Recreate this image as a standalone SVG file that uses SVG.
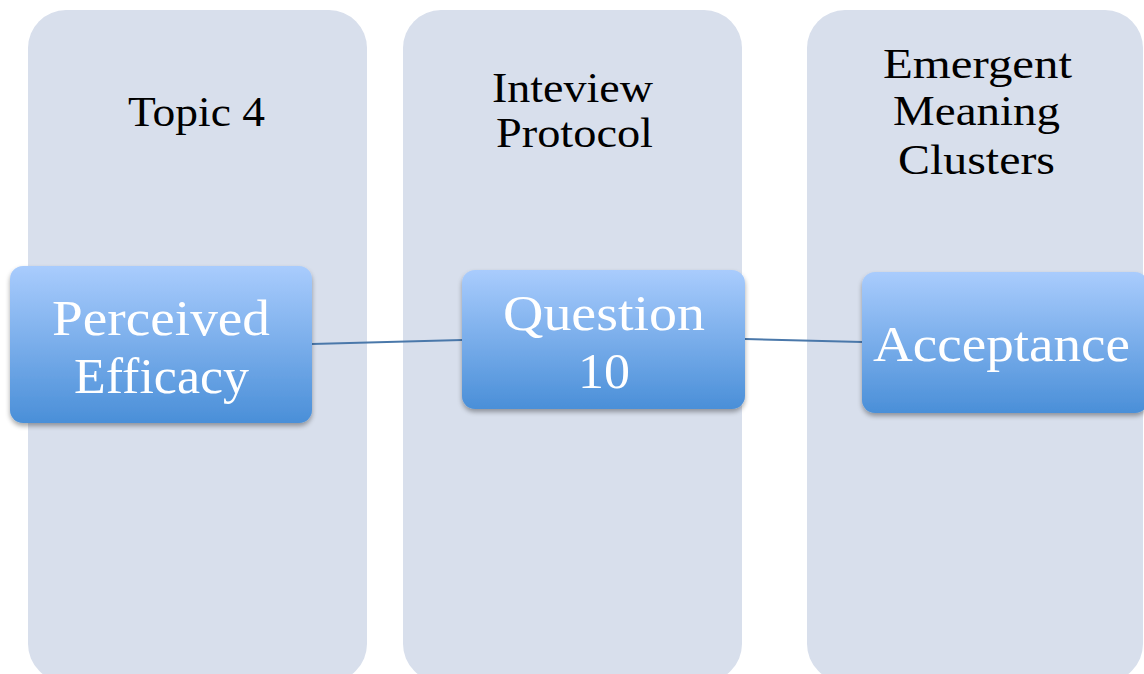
<svg xmlns="http://www.w3.org/2000/svg" width="1144" height="674" viewBox="0 0 1144 674">
<defs>
<linearGradient id="boxg" x1="0" y1="0" x2="0" y2="1">
<stop offset="0" stop-color="#A9CCFD"/>
<stop offset="1" stop-color="#4A8FD8"/>
</linearGradient>
<filter id="sh" x="-10%" y="-10%" width="120%" height="130%">
<feGaussianBlur in="SourceAlpha" stdDeviation="2.5"/>
<feOffset dx="0" dy="3" result="b"/>
<feComponentTransfer><feFuncA type="linear" slope="0.35"/></feComponentTransfer>
<feMerge><feMergeNode/><feMergeNode in="SourceGraphic"/></feMerge>
</filter>
</defs>
<style>
.col{fill:#D8DFEC}
.box{fill:url(#boxg);filter:url(#sh)}
.hdr{font-family:"Liberation Serif","DejaVu Serif",serif;font-size:42px;fill:#000}
.lbl{font-family:"Liberation Serif","DejaVu Serif",serif;font-size:50px;fill:#fff}
.conn{stroke:#4A78AA;stroke-width:2;fill:none}
</style>
<rect width="1144" height="674" fill="#fff"/>
<g id="col-topic">
<rect class="col" x="28" y="10" width="339" height="672" rx="38"/>
<text class="hdr" x="128" y="126" textLength="137" lengthAdjust="spacingAndGlyphs">Topic 4</text>
</g>
<g id="col-protocol">
<rect class="col" x="403" y="10" width="339" height="672" rx="38"/>
<text class="hdr" x="492" y="102" textLength="161" lengthAdjust="spacingAndGlyphs">Inteview</text>
<text class="hdr" x="496" y="147" textLength="157" lengthAdjust="spacingAndGlyphs">Protocol</text>
</g>
<g id="col-clusters">
<rect class="col" x="807" y="10" width="336" height="672" rx="38"/>
<text class="hdr" x="883" y="78" textLength="189" lengthAdjust="spacingAndGlyphs">Emergent</text>
<text class="hdr" x="893" y="125" textLength="167" lengthAdjust="spacingAndGlyphs">Meaning</text>
<text class="hdr" x="898" y="174" textLength="157" lengthAdjust="spacingAndGlyphs">Clusters</text>
</g>
<g id="connectors">
<line class="conn" x1="312" y1="344" x2="462" y2="340"/>
<line class="conn" x1="745" y1="339" x2="862" y2="342"/>
</g>
<g id="node-efficacy">
<rect class="box" x="10" y="266" width="302" height="157" rx="13"/>
<text class="lbl" x="52" y="335" textLength="218" lengthAdjust="spacingAndGlyphs">Perceived</text>
<text class="lbl" x="74" y="393" textLength="175" lengthAdjust="spacingAndGlyphs">Efficacy</text>
</g>
<g id="node-question">
<rect class="box" x="462" y="270" width="283" height="139" rx="13"/>
<text class="lbl" x="503" y="330" textLength="202" lengthAdjust="spacingAndGlyphs">Question</text>
<text class="lbl" x="578" y="388" textLength="52" lengthAdjust="spacingAndGlyphs">10</text>
</g>
<g id="node-acceptance">
<rect class="box" x="862" y="272" width="286" height="141" rx="13"/>
<text class="lbl" x="873" y="361" textLength="257" lengthAdjust="spacingAndGlyphs">Acceptance</text>
</g>
</svg>
